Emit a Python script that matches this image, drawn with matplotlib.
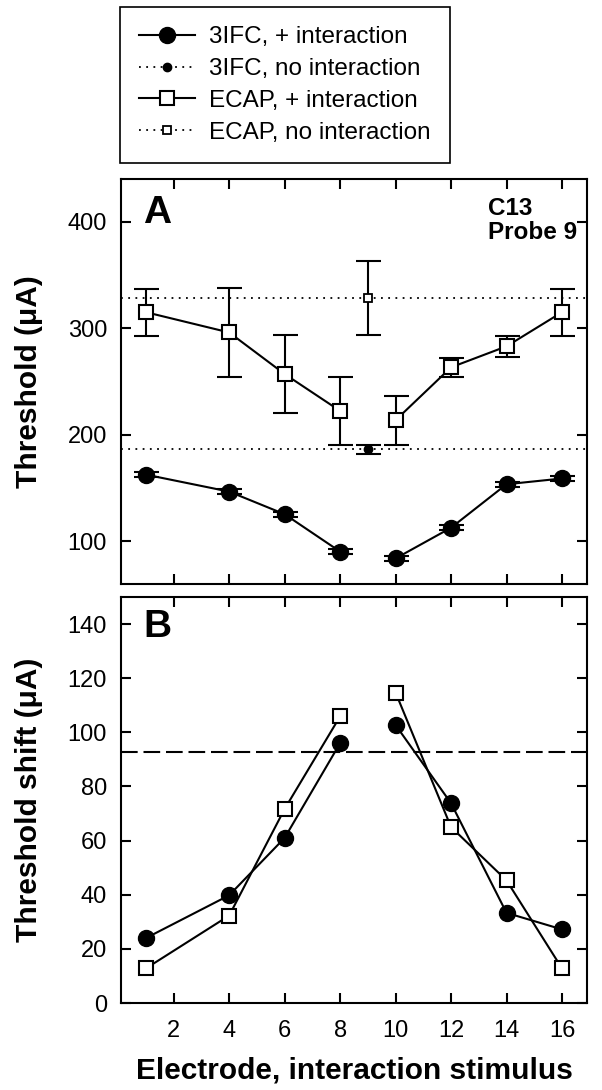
import matplotlib
matplotlib.use('Agg')
import matplotlib.pyplot as plt
import numpy as np

plt.rcParams['font.family'] = ['Liberation Sans', 'DejaVu Sans']

# 电极位置
electrodes = [1, 4, 6, 8, 10, 12, 14, 16]
probe = 9

# A: 阈值 (uA)
ifc_thr = [162.6, 146.7, 125.5, 90.4, 84.0, 112.8, 153.6, 159.0]
ifc_err = [2.5, 2.5, 2.5, 2.5, 2.5, 2.5, 2.5, 2.5]
ecap_thr = [315, 296, 257, 222.4, 213.7, 263.3, 283, 315]
ecap_err = [22, 42, 37, 32, 23, 9, 10, 22]
ifc_base, ifc_base_err = 186.3, 4.5
ecap_base, ecap_base_err = 328.3, 35

# B: 阈值偏移 (uA)
ifc_shift = [24.0, 39.8, 61.0, 96.0, 102.7, 73.8, 33.3, 27.2]
ecap_shift = [12.8, 32.3, 71.7, 105.9, 114.7, 65.0, 45.3, 12.8]
criterion = 92.9


def split(x, y):
    # 8 与 10 之间断开
    xs = list(x[:4]) + [np.nan] + list(x[4:])
    ys = list(y[:4]) + [np.nan] + list(y[4:])
    return xs, ys


fig = plt.figure(figsize=(6.02, 10.9), dpi=100)
axA = fig.add_axes([0.201, 0.4642, 0.774, 0.3716])
axB = fig.add_axes([0.201, 0.0798, 0.774, 0.3725])

dot = (0, (1, 3))
capsz = 9

# ---- A ----
axA.axhline(ecap_base, color='k', lw=1.3, ls=dot, zorder=1)
axA.axhline(ifc_base, color='k', lw=1.3, ls=dot, zorder=1)
axA.errorbar(electrodes, ecap_thr, yerr=ecap_err, fmt='none', ecolor='k',
             elinewidth=1.5, capsize=capsz, capthick=1.5, zorder=2)
axA.errorbar(electrodes, ifc_thr, yerr=ifc_err, fmt='none', ecolor='k',
             elinewidth=1.5, capsize=capsz, capthick=1.5, zorder=2)
axA.errorbar([probe], [ecap_base], yerr=[ecap_base_err], fmt='none', ecolor='k',
             elinewidth=1.5, capsize=capsz, capthick=1.5, zorder=2)
axA.errorbar([probe], [ifc_base], yerr=[ifc_base_err], fmt='none', ecolor='k',
             elinewidth=1.5, capsize=capsz, capthick=1.5, zorder=2)

xs, ys = split(electrodes, ifc_thr)
h1, = axA.plot(xs, ys, '-o', color='k', ms=11.5, lw=1.5, mfc='k', mec='k', zorder=3,
               label='3IFC, + interaction')
h2, = axA.plot([probe], [ifc_base], marker='o', ls=dot, color='k', ms=6, lw=1.3,
               zorder=3, label='3IFC, no interaction')
xs, ys = split(electrodes, ecap_thr)
h3, = axA.plot(xs, ys, '-s', color='k', ms=10.5, lw=1.5, mfc='white', mec='k', mew=1.5,
               zorder=3, label='ECAP, + interaction')
h4, = axA.plot([probe], [ecap_base], marker='s', ls=dot, color='k', ms=5.5, lw=1.3,
               mfc='white', mec='k', mew=1.3, zorder=3, label='ECAP, no interaction')

axA.set_ylim(60, 440)
axA.set_yticks([100, 200, 300, 400])
axA.set_ylabel('Threshold (μA)', fontsize=21.5, fontweight='bold')
axA.yaxis.set_label_coords(-0.167, 0.5)
axA.text(0.047, 0.891, 'A', transform=axA.transAxes, fontsize=28, fontweight='bold',
         va='baseline', ha='left')
axA.text(0.788, 0.955, 'C13\nProbe 9', transform=axA.transAxes, fontsize=17.5,
         fontweight='bold', va='top', ha='left', linespacing=1.05)

# ---- B ----
axB.axhline(criterion, color='k', lw=1.5, ls=(0, (8, 2.8)), zorder=1)
xs, ys = split(electrodes, ifc_shift)
axB.plot(xs, ys, '-o', color='k', ms=11.5, lw=1.5, zorder=3)
xs, ys = split(electrodes, ecap_shift)
axB.plot(xs, ys, '-s', color='k', ms=10.5, lw=1.5, mfc='white', mec='k', mew=1.5, zorder=3)
axB.set_ylim(0, 150)
axB.set_yticks(np.arange(0, 141, 20))
axB.set_ylabel('Threshold shift (μA)', fontsize=21.5, fontweight='bold')
axB.yaxis.set_label_coords(-0.167, 0.5)
axB.set_xlabel('Electrode, interaction stimulus', fontsize=21.5, fontweight='bold',
               labelpad=11)
axB.text(0.047, 0.901, 'B', transform=axB.transAxes, fontsize=28, fontweight='bold',
         va='baseline', ha='left')

for ax in (axA, axB):
    ax.set_xlim(0.1, 16.9)
    ax.set_xticks(np.arange(2, 17, 2))
    ax.tick_params(direction='in', length=7, width=1.5, top=True, right=True,
                   labelsize=17, pad=10)
    for s in ax.spines.values():
        s.set_linewidth(1.5)
axA.tick_params(labelbottom=False)
axB.tick_params(axis='x', pad=12)

leg = fig.legend(handles=[h1, h2, h3, h4], loc='upper left',
                 bbox_to_anchor=(0.1993, 0.9936), fontsize=17.5, numpoints=1,
                 handlelength=2.3, handletextpad=0.55, labelspacing=0.4,
                 borderpad=0.8, borderaxespad=0, fancybox=False, edgecolor='k',
                 framealpha=1)
leg.get_frame().set_linewidth(1.2)

plt.savefig('out.png', dpi=100)
plt.close()
